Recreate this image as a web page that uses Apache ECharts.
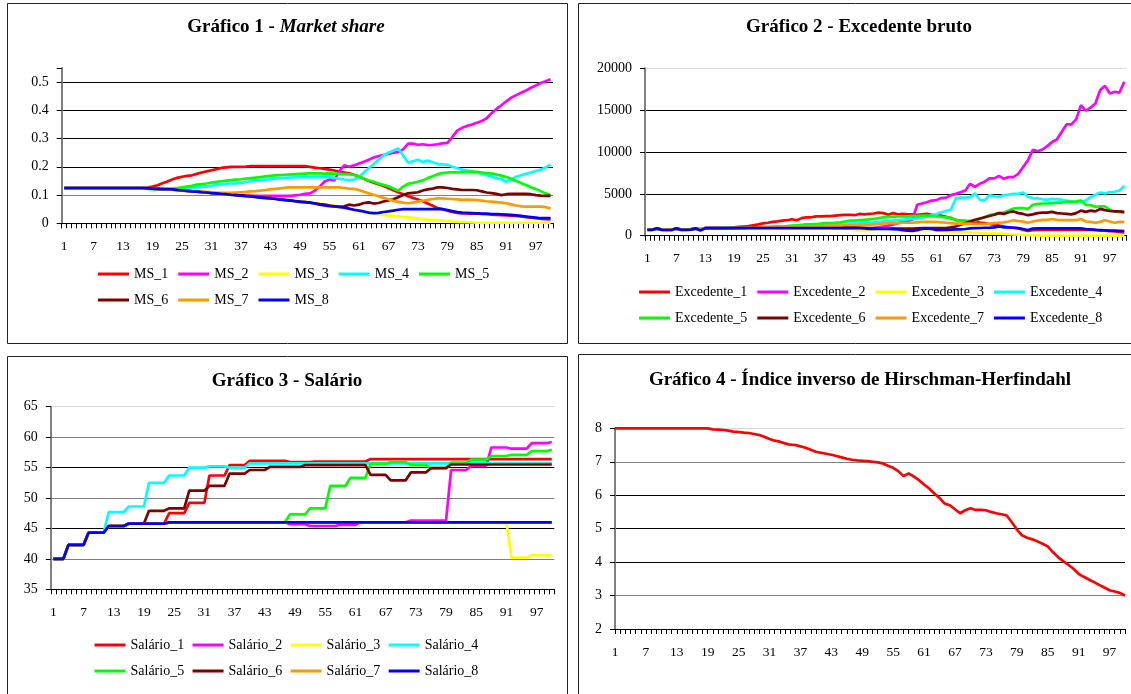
<!DOCTYPE html>
<html>
<head>
<meta charset="utf-8">
<title>Gráficos 1-4</title>
<script src="https://cdn.jsdelivr.net/npm/echarts@6/dist/echarts.min.js"></script>
<style>
  html, body { margin: 0; padding: 0; background: #fff; }
  #painel { width: 1131px; height: 694px; }
</style>
</head>
<body>
<div id="painel"></div>
<script>
// períodos da simulação (eixo x)
const periodos = []
for (let t = 1; t <= 100; t++) periodos.push(String(t))

// Gráfico 1 - Market share
const ms1 = [
  .125,.125,.125,.125,.125,.125,.125,.125,.125,.125,
  .125,.125,.125,.125,.125,.125,.125,.127,.13,.135,
  .142,.148,.155,.161,.165,.168,.17,.175,.18,.184,
  .188,.192,.196,.198,.2,.2,.2,.201,.203,.203,
  .203,.203,.203,.203,.203,.203,.203,.203,.203,.203,
  .2,.197,.195,.193,.19,.187,.183,.18,.177,.172,
  .166,.158,.15,.144,.138,.132,.125,.117,.11,.103,
  .096,.09,.084,.078,.07,.062,.054,.05,.045,.04,
  .037,.035,.035,.034,.034,.033,.032,.031,.03,.029,
  .028,.027,.026,.024,.022,.02,.018,.016,.015,.014]
const ms2 = [
  .125,.125,.125,.125,.125,.125,.125,.125,.125,.125,
  .125,.125,.125,.125,.125,.125,.125,.124,.123,.122,
  .121,.12,.119,.118,.117,.115,.114,.112,.111,.109,
  .108,.106,.105,.103,.102,.101,.1,.099,.098,.097,
  .097,.097,.097,.097,.097,.097,.097,.099,.101,.104,
  .106,.115,.13,.148,.155,.152,.185,.205,.2,.205,
  .212,.218,.225,.233,.238,.242,.246,.25,.252,.262,
  .282,.282,.278,.28,.277,.278,.28,.283,.285,.305,
  .328,.338,.345,.35,.356,.362,.372,.39,.405,.418,
  .432,.445,.454,.462,.47,.48,.488,.497,.503,.51]
const ms3 = [
  .125,.125,.125,.125,.125,.125,.125,.125,.125,.125,
  .125,.125,.125,.125,.125,.125,.125,.124,.123,.122,
  .121,.12,.118,.117,.115,.114,.112,.11,.109,.107,
  .106,.104,.103,.101,.1,.099,.097,.096,.094,.093,
  .091,.09,.088,.087,.085,.083,.081,.079,.077,.075,
  .073,.071,.069,.067,.065,.062,.058,.055,.05,.046,
  .042,.038,.035,.033,.031,.03,.028,.026,.025,.023,
  .021,.019,.017,.015,.013,.012,.011,.01,.008,.006,
  .005,.004,.004,.003,.002,.002,.002,.002,.002,.002,
  .002,.002,.002,.002,.002,.002,.002,.002,.002,.002]
const ms4 = [
  .125,.125,.125,.125,.125,.125,.125,.125,.125,.125,
  .125,.125,.125,.125,.125,.125,.125,.125,.124,.123,
  .122,.122,.121,.121,.122,.123,.125,.127,.129,.131,
  .133,.136,.138,.14,.141,.141,.143,.146,.149,.152,
  .154,.155,.156,.158,.16,.161,.162,.163,.163,.163,
  .163,.163,.163,.163,.163,.16,.158,.155,.153,.155,
  .165,.18,.195,.21,.225,.24,.25,.257,.265,.24,
  .215,.22,.225,.217,.222,.216,.211,.209,.207,.2,
  .195,.19,.187,.183,.179,.175,.17,.165,.16,.156,
  .147,.155,.165,.17,.175,.18,.185,.19,.198,.208]
const ms5 = [
  .125,.125,.125,.125,.125,.125,.125,.125,.125,.125,
  .125,.125,.125,.125,.125,.125,.125,.122,.12,.12,
  .12,.121,.123,.125,.127,.13,.133,.137,.139,.141,
  .144,.147,.149,.151,.153,.155,.156,.158,.16,.162,
  .164,.166,.168,.17,.171,.172,.173,.174,.175,.176,
  .177,.177,.177,.176,.177,.176,.175,.174,.173,.171,
  .166,.158,.152,.147,.141,.136,.131,.123,.115,.13,
  .14,.143,.147,.152,.16,.167,.174,.178,.18,.18,
  .18,.181,.182,.183,.182,.18,.178,.176,.173,.169,
  .164,.158,.15,.143,.136,.128,.122,.114,.106,.1]
const ms6 = [
  .125,.125,.125,.125,.125,.125,.125,.125,.125,.125,
  .125,.125,.125,.125,.125,.125,.125,.124,.123,.122,
  .121,.12,.119,.118,.116,.115,.113,.112,.111,.109,
  .108,.106,.105,.103,.102,.1,.099,.097,.096,.094,
  .092,.091,.089,.087,.085,.083,.081,.079,.077,.075,
  .073,.071,.068,.066,.063,.06,.058,.06,.066,.063,
  .066,.072,.074,.07,.072,.077,.081,.085,.092,.1,
  .106,.108,.11,.116,.12,.123,.127,.127,.125,.122,
  .12,.118,.118,.118,.117,.113,.109,.107,.104,.1,
  .103,.104,.104,.104,.104,.103,.1,.098,.097,.097]
const ms7 = [
  .125,.125,.125,.125,.125,.125,.125,.125,.125,.125,
  .125,.125,.125,.125,.125,.125,.125,.124,.123,.122,
  .121,.12,.119,.118,.117,.116,.114,.113,.112,.111,
  .11,.109,.108,.108,.108,.109,.11,.111,.113,.114,
  .116,.118,.12,.122,.124,.126,.127,.127,.127,.127,
  .127,.127,.127,.127,.127,.127,.127,.125,.123,.122,
  .118,.112,.106,.101,.096,.09,.085,.08,.076,.073,
  .071,.073,.077,.08,.083,.086,.088,.088,.087,.086,
  .085,.083,.084,.083,.082,.08,.078,.077,.075,.073,
  .071,.067,.063,.06,.059,.059,.059,.059,.057,.053]
const ms8 = [
  .125,.125,.125,.125,.125,.125,.125,.125,.125,.125,
  .125,.125,.125,.125,.125,.125,.125,.124,.123,.122,
  .121,.121,.12,.118,.117,.115,.113,.112,.11,.109,
  .107,.106,.104,.103,.101,.1,.098,.096,.095,.093,
  .091,.089,.088,.086,.084,.082,.08,.078,.076,.075,
  .073,.07,.066,.063,.061,.06,.058,.055,.052,.048,
  .045,.042,.038,.036,.037,.04,.042,.045,.048,.05,
  .05,.05,.05,.05,.05,.05,.05,.05,.047,.043,
  .04,.038,.037,.036,.035,.034,.034,.033,.033,.032,
  .031,.03,.028,.026,.024,.022,.02,.018,.018,.018]

// Gráfico 2 - Excedente bruto
const exc1 = [
  750,740,800,750,730,740,780,750,740,760,
  820,800,900,900,900,900,910,950,1000,1050,
  1100,1150,1250,1350,1480,1550,1650,1720,1800,1850,
  1960,1850,2100,2200,2200,2300,2300,2350,2350,2400,
  2450,2480,2500,2450,2600,2550,2600,2650,2750,2700,
  2500,2700,2550,2600,2550,2550,2500,2550,2600,2500,
  2450,2400,2270,2100,1900,1800,1750,1700,1650,1560,
  1500,1400,1300,1200,1100,1000,950,880,700,560,
  650,700,700,700,700,720,700,700,700,720,
  700,700,700,700,600,600,550,500,450,400]
const exc2 = [
  720,720,850,720,700,700,850,720,720,740,
  860,760,900,900,900,900,900,900,920,930,
  940,950,950,960,960,970,970,980,980,990,
  990,1000,1000,1000,1000,1000,1000,980,960,940,
  920,900,880,850,800,780,850,900,1000,1100,
  1200,1350,1500,1650,1750,1900,3700,3850,4000,4200,
  4250,4500,4550,4850,5000,5200,5400,6200,5850,6200,
  6450,6850,6850,7150,6800,7000,7000,7400,8200,9000,
  10250,10100,10300,10700,11200,11500,12400,13300,13300,13900,
  15600,14950,15300,15800,17400,17900,17000,17200,17100,18400]
const exc3 = [
  740,730,820,730,720,720,820,730,730,750,
  840,780,900,900,900,900,900,900,910,920,
  920,930,930,940,940,950,950,950,950,950,
  950,950,950,950,950,950,950,950,940,930,
  920,900,850,750,700,680,700,750,800,800,
  800,800,800,780,760,740,720,700,680,650,
  600,550,500,450,430,420,400,380,350,300,
  260,240,240,240,220,180,150,120,100,80,
  60,40,20,20,20,20,20,20,20,20,
  20,20,20,20,20,20,20,20,20,20]
const exc4 = [
  760,750,820,760,740,740,800,760,760,780,
  880,820,920,920,920,930,950,950,950,960,
  980,1000,1000,1020,1050,1050,1080,1100,1100,1120,
  1150,1150,1200,1200,1250,1250,1300,1300,1350,1350,
  1400,1400,1450,1450,1500,1500,1550,1600,1650,1700,
  1750,1800,1850,1900,1950,2000,2050,2150,2300,2450,
  2550,2800,2950,3100,4450,4550,4550,4600,5050,4300,
  4200,4850,4700,4650,4850,4900,5000,5000,5150,4650,
  4500,4450,4350,4300,4400,4350,4300,4200,4100,4000,
  4100,4200,4600,4900,5150,5050,5200,5250,5400,5950]
const exc5 = [
  700,700,760,700,690,690,760,700,700,720,
  820,760,890,890,890,900,900,900,900,920,
  940,950,960,980,1000,1020,1050,1080,1100,1150,
  1200,1250,1300,1350,1350,1400,1450,1500,1500,1550,
  1600,1700,1800,1800,1850,1900,1950,2000,2100,2200,
  2250,2250,2300,2300,2300,2350,2350,2400,2400,2350,
  2300,2250,2200,2150,1850,1800,1780,1760,1800,2000,
  2200,2450,2550,2700,2750,3000,3250,3300,3300,3200,
  3700,3800,3850,3850,3900,3950,3950,4050,4050,4100,
  4200,3700,3650,3450,3500,3500,3100,2900,2800,2750]
const exc6 = [
  730,730,840,730,710,710,840,730,730,750,
  870,700,900,900,900,900,910,920,940,960,
  980,1000,1000,1000,1000,1000,1000,1000,1000,1000,
  1000,1000,1000,1000,1000,1000,1000,1000,1000,1000,
  1000,1000,1000,1000,980,950,920,900,880,860,
  850,850,850,850,850,850,880,900,900,900,
  900,900,920,1000,1100,1300,1500,1700,1900,2050,
  2200,2350,2500,2700,2600,2800,2900,2700,2600,2450,
  2550,2700,2750,2750,2850,2700,2650,2600,2550,2700,
  3000,2850,3000,2900,3200,3050,2950,2900,2900,2850]
const exc7 = [
  740,740,820,740,720,720,820,740,740,760,
  860,740,900,900,900,910,915,920,930,940,
  950,960,970,980,990,1000,1000,1000,1020,1040,
  1060,1080,1100,1100,1120,1150,1150,1170,1200,1200,
  1200,1250,1250,1250,1300,1300,1300,1350,1400,1450,
  1500,1500,1500,1550,1550,1550,1600,1650,1650,1650,
  1650,1600,1550,1500,1450,1450,1450,1450,1400,1400,
  1400,1450,1500,1550,1600,1700,1850,1750,1700,1550,
  1700,1800,1900,1900,2000,1900,1850,1850,1850,1850,
  2000,1700,1650,1550,1650,1850,1700,1550,1650,1650]
const exc8 = [
  700,700,880,700,680,680,880,700,700,720,
  880,620,900,900,900,900,900,900,900,900,
  910,910,910,900,900,900,900,900,900,900,
  900,900,900,900,900,900,900,900,900,900,
  900,900,900,900,890,880,800,850,800,800,
  800,780,750,650,600,560,650,800,880,800,
  700,680,700,720,760,760,800,880,900,920,
  950,950,1000,1100,1000,1000,950,900,800,680,
  850,880,880,880,880,880,880,880,880,880,
  880,800,750,700,680,650,600,600,580,560]

// Gráfico 3 - Salário
const sal1 = [
  40,40,40,42.3,42.3,42.3,42.3,44.3,44.3,44.3,
  44.3,45.4,45.4,45.4,45.4,45.8,45.8,45.8,45.8,45.8,
  45.8,45.8,45.8,47.5,47.5,47.5,47.5,49.2,49.2,49.2,
  49.2,53.7,53.7,53.7,53.7,55.4,55.4,55.4,55.4,56.1,
  56.1,56.1,56.1,56.1,56.1,56.1,56.1,55.9,55.9,55.9,
  55.9,55.9,56,56,56,56,56,56,56,56,
  56,56,56,56.4,56.4,56.4,56.4,56.4,56.4,56.4,
  56.4,56.4,56.4,56.4,56.4,56.4,56.4,56.4,56.4,56.4,
  56.4,56.4,56.4,56.4,56.4,56.4,56.4,56.4,56.4,56.4,
  56.4,56.4,56.4,56.4,56.4,56.4,56.4,56.4,56.4,56.4]
const sal2 = [
  40,40,40,42.3,42.3,42.3,42.3,44.3,44.3,44.3,
  44.3,45.4,45.4,45.4,45.4,45.8,45.8,45.8,45.8,45.8,
  45.8,45.8,45.8,46,46,46,46,46,46,46,
  46,46,46,46,46,46,46,46,46,46,
  46,46,46,46,46,46,46,45.7,45.7,45.7,
  45.7,45.4,45.4,45.4,45.4,45.4,45.4,45.6,45.6,45.6,
  45.6,46,46,46,46,46,46,46,46,46,
  46,46.3,46.3,46.3,46.3,46.3,46.3,46.3,46.3,54.6,
  54.6,54.6,54.6,55.3,55.3,55.3,55.3,58.3,58.3,58.3,
  58.3,58.1,58.1,58.1,58.1,59,59,59,59,59.2]
const sal3 = [
  40,40,40,42.3,42.3,42.3,42.3,44.3,44.3,44.3,
  44.3,45.4,45.4,45.4,45.4,45.8,45.8,45.8,45.8,45.8,
  45.8,45.8,45.8,46,46,46,46,46,46,46,
  46,46,46,46,46,46,46,46,46,46,
  46,46,46,46,46,46,46,46,46,46,
  46,46,46,46,46,46,46,46,46,46,
  46,46,46,46,46,46,46,46,46,46,
  46,46,46,46,46,46,46,46,46,46,
  46,46,46,46,46,46,46,46,46,46,
  46,40.2,40.2,40.2,40.2,40.6,40.6,40.6,40.6,40.6]
const sal4 = [
  40,40,40,42.3,42.3,42.3,42.3,44.3,44.3,44.3,
  44.3,47.7,47.7,47.7,47.7,48.6,48.6,48.6,48.6,52.5,
  52.5,52.5,52.5,53.7,53.7,53.7,53.7,55,55,55,
  55,55.2,55.2,55.2,55.2,55,55,55,55,55.7,
  55.7,55.7,55.7,55.7,55.7,55.7,55.7,55.7,55.7,55.7,
  55.7,55.7,55.7,55.7,55.7,55.7,55.7,55.7,55.7,55.7,
  55.7,55.7,55.7,55.7,55.7,55.7,55.7,55.7,55.7,55.7,
  55.7,55.7,55.7,55.7,55.7,55.7,55.7,55.7,55.7,55.7,
  55.7,55.7,55.7,55.7,55.7,55.7,55.7,55.7,55.7,55.7,
  55.7,55.7,55.7,55.7,55.7,55.7,55.7,55.7,55.7,55.7]
const sal5 = [
  40,40,40,42.3,42.3,42.3,42.3,44.3,44.3,44.3,
  44.3,45.4,45.4,45.4,45.4,45.8,45.8,45.8,45.8,45.8,
  45.8,45.8,45.8,46,46,46,46,46,46,46,
  46,46,46,46,46,46,46,46,46,46,
  46,46,46,46,46,46,46,47.3,47.3,47.3,
  47.3,48.3,48.3,48.3,48.3,52,52,52,52,53.3,
  53.3,53.3,53.3,55.6,55.6,55.6,55.6,55.9,55.9,55.9,
  55.9,55.4,55.4,55.4,55.4,54.9,54.9,54.9,54.9,55.8,
  55.8,55.8,55.8,56.3,56.3,56.3,56.3,56.9,56.9,56.9,
  56.9,57.1,57.1,57.1,57.1,57.7,57.7,57.7,57.7,57.9]
const sal6 = [
  40,40,40,42.3,42.3,42.3,42.3,44.3,44.3,44.3,
  44.3,45.4,45.4,45.4,45.4,45.8,45.8,45.8,45.8,47.9,
  47.9,47.9,47.9,48.3,48.3,48.3,48.3,51.2,51.2,51.2,
  51.2,52,52,52,52,54,54,54,54,54.6,
  54.6,54.6,54.6,55.1,55.1,55.1,55.1,55.1,55.1,55.1,
  55.4,55.4,55.4,55.4,55.4,55.4,55.4,55.4,55.4,55.4,
  55.4,55.4,55.4,53.8,53.8,53.8,53.8,52.9,52.9,52.9,
  52.9,54.2,54.2,54.2,54.2,54.9,54.9,54.9,54.9,55.5,
  55.5,55.5,55.5,55.5,55.5,55.5,55.5,55.5,55.5,55.5,
  55.5,55.5,55.5,55.5,55.5,55.5,55.5,55.5,55.5,55.5]
const sal7 = [
  40,40,40,42.3,42.3,42.3,42.3,44.3,44.3,44.3,
  44.3,45.4,45.4,45.4,45.4,45.8,45.8,45.8,45.8,45.8,
  45.8,45.8,45.8,46,46,46,46,46,46,46,
  46,46,46,46,46,46,46,46,46,46,
  46,46,46,46,46,46,46,46,46,46,
  46,46,46,46,46,46,46,46,46,46,
  46,46,46,46,46,46,46,46,46,46,
  46,46,46,46,46,46,46,46,46,46,
  46,46,46,46,46,46,46,46,46,46,
  46,46,46,46,46,46,46,46,46,46]
const sal8 = [
  40,40,40,42.3,42.3,42.3,42.3,44.3,44.3,44.3,
  44.3,45.4,45.4,45.4,45.4,45.8,45.8,45.8,45.8,45.8,
  45.8,45.8,45.8,46,46,46,46,46,46,46,
  46,46,46,46,46,46,46,46,46,46,
  46,46,46,46,46,46,46,46,46,46,
  46,46,46,46,46,46,46,46,46,46,
  46,46,46,46,46,46,46,46,46,46,
  46,46,46,46,46,46,46,46,46,46,
  46,46,46,46,46,46,46,46,46,46,
  46,46,46,46,46,46,46,46,46,46]

// Gráfico 4 - Índice inverso de Hirschman-Herfindahl
const ihh = [
  8,8,8,8,8,8,8,8,8,8,
  8,8,8,8,8,8,8,8,8,7.97,
  7.96,7.95,7.93,7.9,7.89,7.87,7.86,7.83,7.8,7.75,
  7.68,7.63,7.6,7.55,7.51,7.5,7.46,7.42,7.36,7.3,
  7.27,7.24,7.21,7.17,7.13,7.09,7.06,7.04,7.03,7.02,
  7.0,6.98,6.95,6.88,6.82,6.72,6.57,6.65,6.56,6.45,
  6.32,6.2,6.05,5.92,5.75,5.7,5.58,5.46,5.55,5.61,
  5.56,5.56,5.55,5.5,5.46,5.43,5.4,5.2,4.98,4.8,
  4.73,4.68,4.62,4.55,4.47,4.3,4.15,4.03,3.92,3.8,
  3.65,3.56,3.48,3.4,3.32,3.24,3.16,3.12,3.08,3.0]

const FONTE = '"Liberation Serif", "Times New Roman", serif'
const cores = ['#ff0000', '#ff00ff', '#ffff00', '#00ffff', '#00ff00', '#800000', '#ff9900', '#0000ff']

// eixo x de categorias (1..100), rótulo a cada 6
function eixoX(gridIndex, boundaryGap) {
  return {
    type: 'category', gridIndex, data: periodos, boundaryGap,
    axisLine: { show: true, onZero: false, lineStyle: { color: '#000', width: 1 } },
    axisTick: { show: true, interval: 0, length: 5, lineStyle: { color: '#000' } },
    axisLabel: { interval: 5, margin: 16, color: '#000', fontFamily: FONTE, fontSize: 13.5 },
    splitLine: { show: false }
  }
}

// eixo y; corLinhas = cor de cada linha de grade, de baixo para cima
function eixoY(gridIndex, min, max, interval, corLinhas, formatter) {
  return {
    type: 'value', gridIndex, min, max, interval,
    axisLine: { show: true, lineStyle: { color: '#808080', width: 2 } },
    axisTick: { show: true, length: 5, lineStyle: { color: '#000' } },
    axisLabel: { margin: 13, color: '#000', fontFamily: FONTE, fontSize: 14, formatter },
    splitLine: { show: true, lineStyle: { color: corLinhas, width: 1 } }
  }
}

function linha(name, data, color, idx) {
  return {
    type: 'line', name, data, xAxisIndex: idx, yAxisIndex: idx,
    showSymbol: false, symbol: 'none', silent: true,
    lineStyle: { color, width: 2.7 }, itemStyle: { color },
    emphasis: { disabled: true }
  }
}

function legenda(nomes, left, top, itemGap) {
  return {
    data: nomes, left, top, itemGap, padding: 0, selectedMode: false,
    icon: 'rect', itemWidth: 31, itemHeight: 3,
    textStyle: { fontFamily: FONTE, fontSize: 14, color: '#000' }
  }
}

function titulo(x, y, text) {
  return {
    type: 'text', x, y, silent: true,
    style: {
      text, x: 0, y: 0, align: 'center', verticalAlign: 'middle',
      textAlign: 'center', textVerticalAlign: 'middle',
      font: 'bold 19px ' + FONTE, fill: '#000',
      rich: {
        b: { fontFamily: FONTE, fontWeight: 'bold', fontSize: 19, fill: '#000' },
        i: { fontFamily: FONTE, fontWeight: 'bold', fontStyle: 'italic', fontSize: 19, fill: '#000' }
      }
    }
  }
}

function moldura(x, y, w, h) {
  return { type: 'rect', silent: true, z: -1, shape: { x, y, width: w, height: h }, style: { fill: 'none', stroke: '#222', lineWidth: 1 } }
}

const grafico = echarts.init(document.getElementById('painel'))

const seriesMS = [ms1, ms2, ms3, ms4, ms5, ms6, ms7, ms8]
const seriesExc = [exc1, exc2, exc3, exc4, exc5, exc6, exc7, exc8]
const seriesSal = [sal1, sal2, sal3, sal4, sal5, sal6, sal7, sal8]
const nomesMS = seriesMS.map((d, i) => 'MS_' + (i + 1))
const nomesExc = seriesExc.map((d, i) => 'Excedente_' + (i + 1))
const nomesSal = seriesSal.map((d, i) => 'Salário_' + (i + 1))

const series = []
seriesMS.forEach((d, i) => series.push(linha(nomesMS[i], d, cores[i], 0)))
seriesExc.forEach((d, i) => series.push(linha(nomesExc[i], d, cores[i], 1)))
seriesSal.forEach((d, i) => series.push(linha(nomesSal[i], d, cores[i], 2)))
series.push(linha('IHH', ihh, '#ff0000', 3))

const opcao = {
  animation: false,
  backgroundColor: '#fff',
  grid: [
    { left: 61.7, top: 68, width: 491.3, height: 155.3 },
    { left: 645, top: 68.3, width: 481.7, height: 167.4 },
    { left: 50.8, top: 406.7, width: 503.5, height: 182.6 },
    { left: 615, top: 428.3, width: 510, height: 200.7 }
  ],
  xAxis: [eixoX(0, true), eixoX(1, true), eixoX(2, true), eixoX(3, false)],
  yAxis: [
    eixoY(0, 0, 0.55, 0.1, ['#808080', '#808080', '#000', '#000', '#000', '#000', 'rgba(0,0,0,0)'],
      (v) => (v > 0.5 ? '' : String(v))),
    eixoY(1, 0, 20000, 5000, ['#000', '#000', '#000', '#000', '#d9d9d9'], (v) => String(v)),
    eixoY(2, 35, 65, 5, ['#000', '#808080', '#000', '#808080', '#000', '#808080', '#d9d9d9'], (v) => String(v)),
    eixoY(3, 2, 8, 1, ['#000', '#808080', '#000', '#000', '#000', '#808080', '#d9d9d9'], (v) => String(v))
  ],
  legend: [
    legenda(nomesMS.slice(0, 5), 98, 267, 10),
    legenda(nomesMS.slice(5), 98, 293, 10),
    legenda(nomesExc.slice(0, 4), 639, 285, 10),
    legenda(nomesExc.slice(4), 639, 311, 10),
    legenda(nomesSal.slice(0, 4), 94.5, 638, 8.4),
    legenda(nomesSal.slice(4), 94.5, 664, 8.4)
  ],
  graphic: [
    moldura(7.5, 3.5, 560, 340),
    moldura(578.5, 3.5, 560, 340),
    moldura(7.5, 356.5, 560, 400),
    moldura(578.5, 354.5, 560, 400),
    titulo(286, 27, '{b|Gráfico 1 - }{i|Market share}'),
    titulo(859, 27, 'Gráfico 2 - Excedente bruto'),
    titulo(287, 381, 'Gráfico 3 - Salário'),
    titulo(860, 380, 'Gráfico 4 - Índice inverso de Hirschman-Herfindahl')
  ],
  series
}

grafico.setOption(opcao)
</script>
</body>
</html>
